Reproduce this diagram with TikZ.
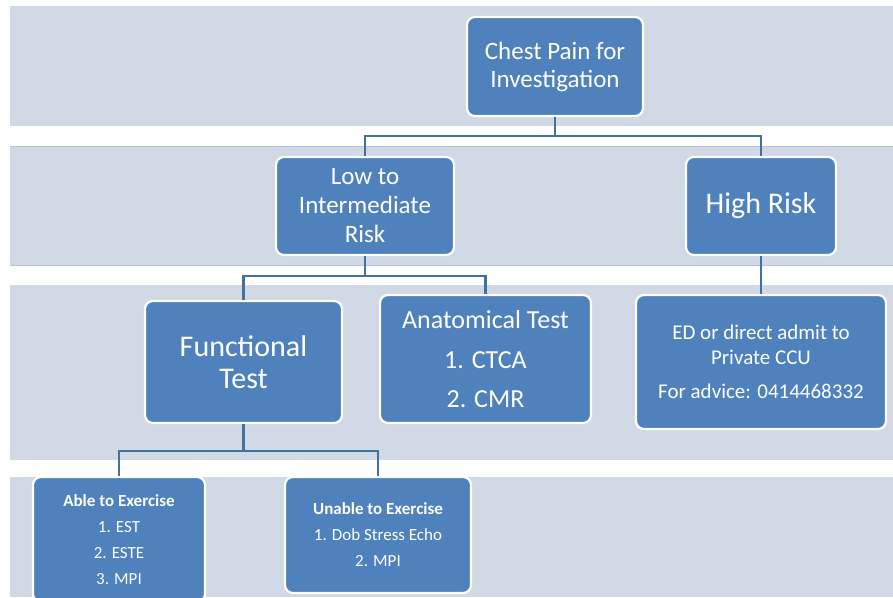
\documentclass[tikz,border=0pt]{standalone}
\usepackage{fontspec}
\setmainfont{Carlito}
\definecolor{bandc}{HTML}{D1D9E7}
\definecolor{boxc}{HTML}{4F81BD}
\definecolor{connc}{HTML}{41719C}
\definecolor{edgec}{HTML}{B9C3D3}
\tikzset{
  band/.style={fill=bandc, draw=none},
  bandedge/.style={draw=edgec, line width=0.8pt},
  box/.style={rounded corners=8pt, fill=boxc, draw=white, line width=2.2pt, text=white, align=center, inner sep=0pt},
  conn/.style={draw=connc, line width=2.6pt},
}
\begin{document}
\begin{tikzpicture}[x=1pt,y=-1pt]
\useasboundingbox (0,0) rectangle (893,597);
\fill[white] (0,0) rectangle (893,597);
% bands
\path[band] (10,6) rectangle (893,126);
\path[band] (10,146) rectangle (893,265);
\path[band] (10,285) rectangle (893,460);
\path[band] (10,477) rectangle (893,597);
\draw[bandedge] (10,146) -- (893,146);
\draw[bandedge] (10,265) -- (893,265);
% nodes
\node[box, minimum width=176pt, minimum height=99pt, font=\fontsize{25}{28}\selectfont] (chest) at (555,66.5)
  {Chest Pain for\\ Investigation};
\node[box, minimum width=178pt, minimum height=98pt, font=\fontsize{25}{29}\selectfont] (low) at (365,206)
  {Low to\\ Intermediate\\ Risk};
\node[box, minimum width=150pt, minimum height=98pt, font=\fontsize{30}{34}\selectfont] (high) at (761,206)
  {High Risk};
\node[box, minimum width=197pt, minimum height=122pt, font=\fontsize{30}{32}\selectfont] (func) at (243.5,362)
  {Functional\\ Test};
\node[box, minimum width=211pt, minimum height=128pt, font=\fontsize{26}{28}\selectfont] (anat) at (485.5,359)
  {Anatomical Test\\[12pt] 1. CTCA\\[11pt] 2. CMR};
\node[box, minimum width=250pt, minimum height=134pt, font=\fontsize{21}{25}\selectfont] (ed) at (761,362)
  {ED or direct admit to\\ Private CCU\\[9pt] For advice: 0414468332};
\node[box, minimum width=172pt, minimum height=125pt, font=\fontsize{17}{26}\selectfont] (able) at (119,539.5)
  {\textbf{Able to Exercise}\\ 1. EST\\ 2. ESTE\\ 3. MPI};
\node[box, minimum width=186pt, minimum height=116pt, font=\fontsize{17}{26}\selectfont] (unable) at (378,535)
  {\textbf{Unable to Exercise}\\ 1. Dob Stress Echo\\ 2. MPI};
% connectors
\draw[conn] (chest.south) -- ++(0,19) -| (low.north);
\draw[conn] (chest.south) -- ++(0,19) -| (high.north);
\draw[conn] (low.south) -- ++(0,20) -| (func.north);
\draw[conn] (low.south) -- ++(0,20) -| (anat.north);
\draw[conn] (high.south) -- (ed.north);
\draw[conn] (func.south) -- ++(0,27) -| (able.north);
\draw[conn] (func.south) -- ++(0,27) -| (unable.north);
\end{tikzpicture}
\end{document}
